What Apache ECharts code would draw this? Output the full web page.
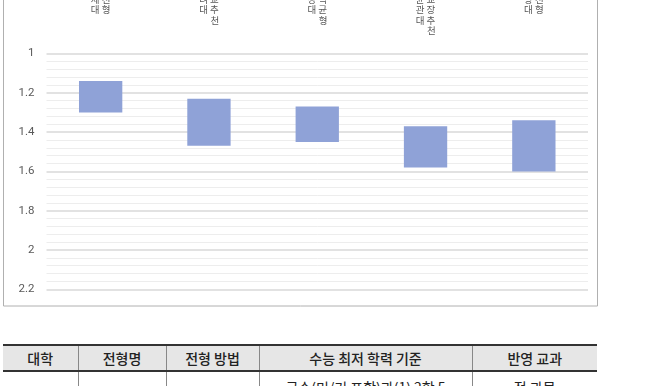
<!DOCTYPE html>
<html>
<head>
<meta charset="utf-8">
<script src="https://cdn.jsdelivr.net/npm/echarts@6/dist/echarts.min.js"></script>
<style>
  html, body { margin:0; padding:0; width:651px; height:386px; overflow:hidden; background:#fff; }
  #chart { position:absolute; left:0; top:0; width:651px; height:312px; }
  table { position:absolute; left:3px; top:344px; border-collapse:collapse; table-layout:fixed;
          font-family:"Noto Sans CJK KR", sans-serif; font-size:14px; color:#222; }
  th { background:#e6e6e6; font-weight:500; height:24px; padding:0; border-top:2px solid #333; border-bottom:2px solid #333;
       border-left:1px solid #888; border-right:1px solid #888; line-height:24px; }
  td { height:26px; padding:0; text-align:center; border-left:1px solid #888; border-right:1px solid #888; line-height:26px; vertical-align:top; padding-top:2px; }
  th:first-child, td:first-child { border-left:none; }
  th:last-child, td:last-child { border-right:none; }
</style>
</head>
<body>
<div id="chart"></div>
<table id="tbl"></table>
<script>
// ---- data ----
const universities = ['연세대', '고려대', '서강대', '성균관대', '한양대'];
const admissionTypes = ['추천형', '학교추천', '지역균형', '학교장추천', '추천형'];
const gradeLow  = [1.14, 1.23, 1.27, 1.37, 1.34];
const gradeHigh = [1.30, 1.47, 1.45, 1.58, 1.60];
const yTicks = [1, 1.2, 1.4, 1.6, 1.8, 2, 2.2];

const tableHeaders = ['대학', '전형명', '전형 방법', '수능 최저 학력 기준', '반영 교과'];
const tableRow1 = ['', '', '', '국수(미/기 포함)과(1) 2합 5', '전 과목'];
const colWidths = [75, 88, 93, 213, 125];

// ---- chart ----
const categories = universities.map((u, i) => u + '\n' + admissionTypes[i]);
const rangeVals = gradeHigh.map((h, i) => +(h - gradeLow[i]).toFixed(4));

function stackedLabel(v) {
  const [a, b] = v.split('\n');
  const A = Array.from(a), B = Array.from(b);
  const n = Math.max(A.length, B.length);
  const lines = [];
  for (let i = 0; i < n; i++) lines.push((A[i] || '\u3000') + ' ' + (B[i] || '\u3000'));
  return lines.join('\n');
}

const chart = echarts.init(document.getElementById('chart'), null, { renderer: 'canvas' });
chart.setOption({
  animation: false,
  backgroundColor: '#fff',
  grid: { left: 46.5, right: 63, top: 53.5, bottom: 312 - 289.3, containLabel: false, outerBoundsMode: 'none' },
  graphic: [{
    type: 'rect', z: -1, silent: true,
    shape: { x: 3.5, y: -20, width: 594, height: 326 },
    style: { fill: 'none', stroke: '#b0b0b0', lineWidth: 1 }
  }],
  xAxis: {
    type: 'category', position: 'top', data: categories,
    axisLine: { show: false }, axisTick: { show: false },
    axisLabel: {
      interval: 0, formatter: stackedLabel, verticalAlign: 'top', margin: 70,
      fontFamily: '"Noto Sans CJK KR", sans-serif', fontSize: 9.5, lineHeight: 10.5, color: '#595959'
    }
  },
  yAxis: {
    type: 'value', inverse: true, min: yTicks[0], max: yTicks[yTicks.length - 1], interval: 0.2,
    axisLine: { show: false }, axisTick: { show: false },
    axisLabel: {
      margin: 12, fontSize: 11.5, color: '#595959',
      fontFamily: 'Roboto, sans-serif',
      formatter: v => String(+v.toFixed(1))
    },
    splitLine: { lineStyle: { color: '#d9d9d9', width: 1.5 } },
    minorTick: { show: false, splitNumber: 5 },
    minorSplitLine: { show: true, lineStyle: { color: '#ededed', width: 1 } }
  },
  series: [
    { type: 'bar', stack: 'g', data: gradeLow, barWidth: '40%', itemStyle: { color: 'transparent' }, silent: true },
    { type: 'bar', stack: 'g', data: rangeVals, barWidth: '40%', itemStyle: { color: '#8fa2d7' } }
  ]
});

// ---- table ----
const tbl = document.getElementById('tbl');
const cg = document.createElement('colgroup');
colWidths.forEach(w => { const c = document.createElement('col'); c.style.width = w + 'px'; cg.appendChild(c); });
tbl.appendChild(cg);
const trh = document.createElement('tr');
tableHeaders.forEach(h => { const th = document.createElement('th'); th.textContent = h; trh.appendChild(th); });
tbl.appendChild(trh);
const tr = document.createElement('tr');
tableRow1.forEach(t => { const td = document.createElement('td'); td.textContent = t; tr.appendChild(td); });
tbl.appendChild(tr);
</script>
</body>
</html>
